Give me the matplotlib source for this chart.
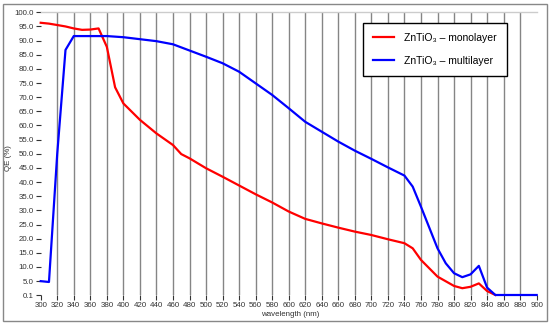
import numpy as np
import matplotlib.pyplot as plt
from matplotlib.patches import Rectangle

# monolayer (red)
wl_mono = [300, 310, 320, 330, 340, 350, 360, 370, 380, 390, 400, 420, 440, 460, 470, 480,
           500, 520, 540, 560, 580, 600, 620, 640, 660, 680, 700, 720, 740, 750, 760, 780,
           800, 810, 820, 830, 840, 850]
qe_mono = [96.3, 96.0, 95.5, 95.0, 94.3, 93.8, 93.9, 94.3, 87.8, 73.5, 67.8, 62.0, 57.2, 53.1, 49.9, 48.4,
           44.9, 41.9, 38.8, 35.7, 32.8, 29.6, 27.0, 25.4, 23.9, 22.5, 21.3, 19.8, 18.4, 16.6, 12.5, 6.6,
           3.3, 2.5, 3.0, 4.2, 1.5, 0.1]

# multilayer (blue)
wl_multi = [300, 310, 320, 330, 340, 350, 360, 370, 380, 390, 400, 420, 440, 460, 480, 500,
            520, 540, 560, 580, 600, 620, 640, 660, 680, 700, 720, 740, 750, 760, 780, 790,
            800, 810, 820, 830, 840, 850, 860, 880, 900]
qe_multi = [5.0, 4.7, 50.0, 86.7, 91.6, 91.6, 91.6, 91.6, 91.6, 91.4, 91.2, 90.5, 89.8, 88.7, 86.5, 84.3,
            82.0, 79.0, 74.9, 70.8, 66.1, 61.3, 57.8, 54.3, 51.1, 48.2, 45.2, 42.3, 38.4, 31.3, 16.6, 11.3,
            7.8, 6.4, 7.4, 10.4, 2.7, 0.1, 0.1, 0.1, 0.1]

xticks = list(range(300, 901, 20))
yticks = [0.1] + list(range(5, 101, 5))
labels = ["ZnTiO\u2083 \u2013 monolayer", "ZnTiO\u2083 \u2013 multilayer"]

W, H = 550, 324
fig = plt.figure(figsize=(W / 100, H / 100), dpi=100)
ax = fig.add_axes([40.7 / W, 29 / H, 496 / W, 282.7 / H])

for x in xticks[1:-1]:
    ax.axvline(x, color='#858585', lw=1.0, zorder=0)

ax.plot(wl_mono, qe_mono, color='#ff0000', lw=1.6, label=labels[0], clip_on=False, zorder=3)
ax.plot(wl_multi, qe_multi, color='#0000ff', lw=1.6, label=labels[1], clip_on=False, zorder=3)

ax.set_xlim(300, 900)
ax.set_ylim(0.1, 100)
ax.set_xticks(xticks)
ax.set_yticks(yticks)
ax.set_yticklabels(["%.1f" % v for v in yticks])
ax.tick_params(axis='both', labelsize=5.7, colors='#333333', length=3.5, width=0.8, pad=1.5)
for lab in ax.get_xticklabels() + ax.get_yticklabels():
    lab.set_family('Liberation Sans')

for s in ['left', 'right', 'bottom']:
    ax.spines[s].set_visible(False)
ax.spines['top'].set_color('#cccccc')
ax.spines['top'].set_linewidth(1.0)

fig.text(290 / W, 1 - 315 / H, "wavelength (nm)", ha='center', va='center',
         fontsize=5.7, family='Liberation Sans', color='#333333')
fig.text(9 / W, 1 - 158 / H, "QE (%)", ha='center', va='center', rotation=90,
         fontsize=5.7, family='Liberation Sans', color='#333333')

leg = ax.legend(loc='upper left', bbox_to_anchor=(363 / W, 1 - 22.7 / H),
                bbox_transform=fig.transFigure, borderaxespad=0, fancybox=False,
                edgecolor='black', framealpha=1, handlelength=2.0, labelspacing=1.3,
                borderpad=0.95, handletextpad=1.0,
                prop={'family': ['Liberation Sans', 'DejaVu Sans'], 'size': 7.5})
leg.get_frame().set_linewidth(1.0)

fig.patches.append(Rectangle((2.5 / W, 3.5 / H), 544.5 / W, 317 / H, transform=fig.transFigure,
                             fill=False, edgecolor='#888888', lw=1.0))

fig.savefig('out.png', dpi=100)
